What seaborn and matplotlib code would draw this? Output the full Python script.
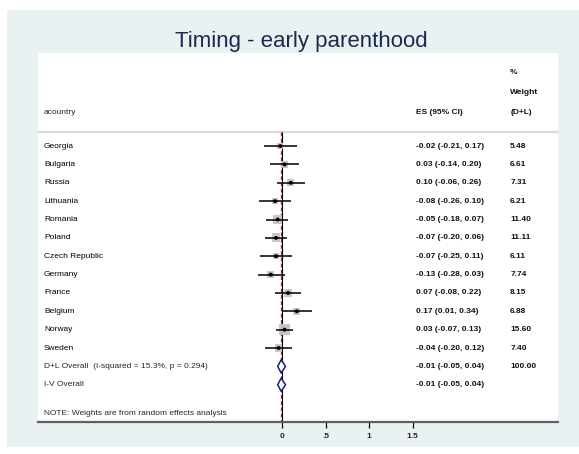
import matplotlib
matplotlib.use("Agg")
import matplotlib.pyplot as plt
import seaborn as sns
import pandas as pd
import numpy as np
from matplotlib.patches import Rectangle, Polygon

countries = ["Georgia", "Bulgaria", "Russia", "Lithuania", "Romania", "Poland",
             "Czech Republic", "Germany", "France", "Belgium", "Norway", "Sweden"]
es = [-0.02, 0.03, 0.10, -0.08, -0.05, -0.07, -0.07, -0.13, 0.07, 0.17, 0.03, -0.04]
lo = [-0.21, -0.14, -0.06, -0.26, -0.18, -0.20, -0.25, -0.28, -0.08, 0.01, -0.07, -0.20]
hi = [0.17, 0.20, 0.26, 0.10, 0.07, 0.06, 0.11, 0.03, 0.22, 0.34, 0.13, 0.12]
weights = [5.48, 6.61, 7.31, 6.21, 11.40, 11.11, 6.11, 7.74, 8.15, 6.88, 15.60, 7.40]

overall_labels = ["D+L Overall  (I-squared = 15.3%, p = 0.294)", "I-V Overall"]
overall_es = [-0.01, -0.01]
overall_lo = [-0.05, -0.05]
overall_hi = [0.04, 0.04]
overall_w = ["100.00", ""]

xticks = [0, 0.5, 1, 1.5]
xticklabels = ["0", ".5", "1", "1.5"]

sns.set_theme(style="white")
plt.rcParams['font.family'] = ['Liberation Sans', 'DejaVu Sans']

W, H = 579, 454
fig = plt.figure(figsize=(W / 100, H / 100), dpi=100)
fig.patch.set_facecolor("white")
bg = Rectangle((7 / W, (H - 447) / H), 1 - 7 / W, (447 - 10) / H,
               transform=fig.transFigure, facecolor="#e9f1f3",
               edgecolor="none", zorder=-10)
fig.patches.append(bg)

ax = fig.add_axes([38 / W, (H - 422) / H, (558 - 38) / W, (422 - 53) / H])
ax.set_zorder(5)
ax.set_facecolor("white")

n = len(countries)
df = pd.DataFrame({"country": countries, "es": es, "lo": lo, "hi": hi,
                   "w": weights, "row": np.arange(n)})

# null line and overall dashed line
ax.vlines(0, -0.76, 15.1, color="black", lw=0.8, zorder=2)
ax.vlines(overall_es[0], -0.76, 15.1, color="#9a2a2a", lw=0.9,
          linestyles=(0, (3, 2)), zorder=2)

# gray weight boxes
sns.scatterplot(data=df, x="es", y="row", size="w", sizes=(min(weights) * 3.6, max(weights) * 3.6),
                size_norm=(min(weights), max(weights)), marker="s", color="#c4c4c4",
                edgecolor="none", alpha=0.95, legend=False, ax=ax, zorder=3)
# CI lines
ax.hlines(df["row"], df["lo"], df["hi"], color="black", lw=1.1, zorder=4)
# point estimates
sns.scatterplot(data=df, x="es", y="row", marker="o", color="black", s=8,
                edgecolor="none", legend=False, ax=ax, zorder=5)

# diamonds
for i in range(len(overall_es)):
    r = n + i
    ax.add_patch(Polygon([(overall_lo[i], r), (overall_es[i], r - 0.36),
                          (overall_hi[i], r), (overall_es[i], r + 0.36)],
                         closed=True, facecolor="white", edgecolor="#1a1a8a",
                         lw=1.1, zorder=6))

# separator line
ax.axhline(-0.76, color="#d9d9d9", lw=1.6, zorder=1)

fs = 6.0
tr = ax.get_yaxis_transform()
x_name, x_es, x_w = 0.0115, 0.727, 0.908
for i in range(n):
    ax.text(x_name, i, countries[i], transform=tr, fontsize=fs, va="center", color="black")
    ax.text(x_es, i, f"{es[i]:.2f} ({lo[i]:.2f}, {hi[i]:.2f})", transform=tr, fontsize=fs,
            va="center", fontweight="bold", color="#111111")
    ax.text(x_w, i, f"{weights[i]:.2f}", transform=tr, fontsize=fs, va="center",
            fontweight="bold", color="#111111")
for i in range(len(overall_es)):
    r = n + i
    ax.text(x_name, r, overall_labels[i], transform=tr, fontsize=fs, va="center")
    ax.text(x_es, r, f"{overall_es[i]:.2f} ({overall_lo[i]:.2f}, {overall_hi[i]:.2f})",
            transform=tr, fontsize=fs, va="center", fontweight="bold", color="#111111")
    ax.text(x_w, r, overall_w[i], transform=tr, fontsize=fs, va="center", fontweight="bold",
            color="#111111")

ax.text(x_name, 14.54, "NOTE: Weights are from random effects analysis", transform=tr,
        fontsize=fs, va="center")

# headers
ax.text(x_name, -1.85, "acountry", transform=tr, fontsize=fs, va="center")
ax.text(x_es, -1.85, "ES (95% CI)", transform=tr, fontsize=fs, va="center", fontweight="bold",
        color="#111111")
ax.text(x_w, -1.85, "(D+L)", transform=tr, fontsize=fs, va="center", fontweight="bold",
        color="#111111")
ax.text(x_w, -2.94, "Weight", transform=tr, fontsize=fs, va="center", fontweight="bold",
        color="#111111")
ax.text(x_w, -4.03, "%", transform=tr, fontsize=fs, va="center", fontweight="bold",
        color="#111111")

ax.set_xlim(-2.805, 3.172)
ax.set_ylim(15.03, -5.07)
for s in ["top", "left", "right"]:
    ax.spines[s].set_visible(False)
ax.spines["bottom"].set_color("#606060")
ax.spines["bottom"].set_linewidth(1.6)
ax.set_yticks([])
ax.set_xticks(xticks)
ax.set_xticklabels(xticklabels, fontsize=fs, fontweight="bold")
ax.tick_params(axis="x", bottom=True, direction="out", length=4.3, width=0.9,
               color="black", pad=3.5)
ax.set_xlabel("")
ax.set_ylabel("")

fig.text(301 / W, (H - 46.7) / H, "Timing - early parenthood", ha="center",
         va="baseline", fontsize=16, color="#1c2a4f")

fig.savefig("out.png", dpi=100)
